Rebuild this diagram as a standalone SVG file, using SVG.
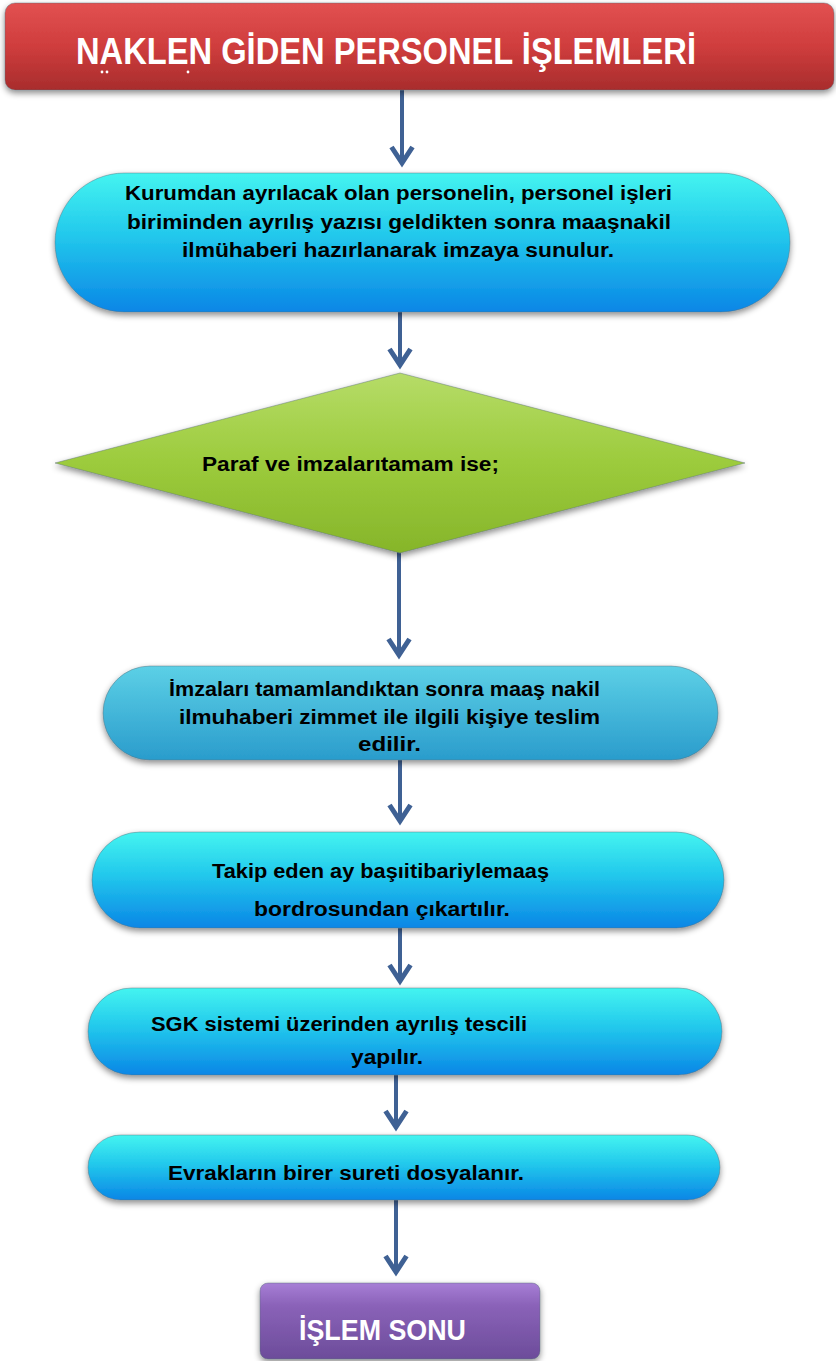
<svg xmlns="http://www.w3.org/2000/svg" width="836" height="1361" viewBox="0 0 836 1361">
  <defs>
    <style>
      .lbl { font-family: "Liberation Sans", Arial, sans-serif; font-weight: bold; font-size: 20px; fill: #000; }
      .ttl { font-family: "Liberation Sans", Arial, sans-serif; font-weight: bold; fill: #fff; }
      .conn { stroke: #3f6194; stroke-width: 4; fill: none; }
      .rim { stroke: #5a6e7a; stroke-opacity: 0.45; stroke-width: 1; }
    </style>
    <linearGradient id="gRed" x1="0" y1="0" x2="0" y2="1">
      <stop offset="0" stop-color="#e25151"/>
      <stop offset="0.5" stop-color="#cf3d3d"/>
      <stop offset="1" stop-color="#a82c2c"/>
    </linearGradient>
    <linearGradient id="gCyan" x1="0" y1="0" x2="0" y2="1">
      <stop offset="0" stop-color="#44f4f0"/>
      <stop offset="0.45" stop-color="#22c8ec"/>
      <stop offset="1" stop-color="#0a86e6"/>
    </linearGradient>
    <linearGradient id="gTeal" x1="0" y1="0" x2="0" y2="1">
      <stop offset="0" stop-color="#5cd0e6"/>
      <stop offset="1" stop-color="#2a9ccc"/>
    </linearGradient>
    <linearGradient id="gGreen" x1="0" y1="0" x2="0" y2="1">
      <stop offset="0" stop-color="#b6dc68"/>
      <stop offset="0.5" stop-color="#9ccb3c"/>
      <stop offset="1" stop-color="#86b52a"/>
    </linearGradient>
    <linearGradient id="gPurple" x1="0" y1="0" x2="0" y2="1">
      <stop offset="0" stop-color="#a77ed6"/>
      <stop offset="0.3" stop-color="#8a62b8"/>
      <stop offset="1" stop-color="#6c4c9a"/>
    </linearGradient>
    <filter id="shadow" x="-10%" y="-20%" width="120%" height="150%">
      <feDropShadow dx="0" dy="3" stdDeviation="3" flood-color="#000" flood-opacity="0.45"/>
    </filter>
    <!-- chevron head, drawn along +x so orient="auto" turns it with the line -->
    <marker id="head" markerUnits="userSpaceOnUse" markerWidth="26" markerHeight="28" refX="21" refY="14" orient="auto" viewBox="0 0 26 28">
      <polyline points="4,3.5 20,14 4,24.5" fill="none" stroke="#3f6194" stroke-width="5"/>
    </marker>
  </defs>

  <!-- connectors -->
  <g id="connectors">
    <line class="conn" x1="402" y1="90" x2="402" y2="164" marker-end="url(#head)"/>
    <line class="conn" x1="400" y1="312" x2="400" y2="366" marker-end="url(#head)"/>
    <line class="conn" x1="399" y1="548" x2="399" y2="656" marker-end="url(#head)"/>
    <line class="conn" x1="400" y1="760" x2="400" y2="822" marker-end="url(#head)"/>
    <line class="conn" x1="400" y1="928" x2="400" y2="982" marker-end="url(#head)"/>
    <line class="conn" x1="396" y1="1075" x2="396" y2="1128" marker-end="url(#head)"/>
    <line class="conn" x1="396" y1="1200" x2="396" y2="1273" marker-end="url(#head)"/>
  </g>

  <!-- title -->
  <g id="title">
    <rect x="5" y="3" width="829" height="87" rx="10" fill="url(#gRed)" class="rim" filter="url(#shadow)"/>
    <text class="ttl" x="76" y="64" font-size="36" textLength="620" lengthAdjust="spacingAndGlyphs">NAKLEN GİDEN PERSONEL İŞLEMLERİ</text>
    <circle cx="102" cy="72" r="1.4" fill="#fff"/>
    <circle cx="107" cy="72" r="1.4" fill="#fff"/>
    <circle cx="188" cy="72" r="1.4" fill="#fff"/>
  </g>

  <!-- step 1 -->
  <g id="step1">
    <rect x="55" y="173" width="735" height="139" rx="69.5" fill="url(#gCyan)" class="rim" filter="url(#shadow)"/>
    <text class="lbl" x="125" y="200" textLength="547" lengthAdjust="spacingAndGlyphs">Kurumdan ayrılacak olan personelin, personel işleri</text>
    <text class="lbl" x="127" y="229" textLength="544" lengthAdjust="spacingAndGlyphs">biriminden ayrılış yazısı geldikten sonra maaşnakil</text>
    <text class="lbl" x="182" y="257" textLength="432" lengthAdjust="spacingAndGlyphs">ilmühaberi hazırlanarak imzaya sunulur.</text>
  </g>

  <!-- decision -->
  <g id="decision">
    <polygon points="400,373 745,463 400,553 55,463" fill="url(#gGreen)" class="rim" filter="url(#shadow)"/>
    <text class="lbl" x="202" y="471" textLength="297" lengthAdjust="spacingAndGlyphs">Paraf ve imzalarıtamam ise;</text>
  </g>

  <!-- step 2 -->
  <g id="step2">
    <rect x="103" y="666" width="615" height="94" rx="47" fill="url(#gTeal)" class="rim" filter="url(#shadow)"/>
    <text class="lbl" x="169" y="696" textLength="431" lengthAdjust="spacingAndGlyphs">İmzaları tamamlandıktan sonra maaş nakil</text>
    <text class="lbl" x="179" y="724" textLength="421" lengthAdjust="spacingAndGlyphs">ilmuhaberi zimmet ile ilgili kişiye teslim</text>
    <text class="lbl" x="358" y="751" textLength="63" lengthAdjust="spacingAndGlyphs">edilir.</text>
  </g>

  <!-- step 3 -->
  <g id="step3">
    <rect x="92" y="832" width="632" height="96" rx="48" fill="url(#gCyan)" class="rim" filter="url(#shadow)"/>
    <text class="lbl" x="212" y="878" textLength="337" lengthAdjust="spacingAndGlyphs">Takip eden ay başıitibariylemaaş</text>
    <text class="lbl" x="254" y="916" textLength="256" lengthAdjust="spacingAndGlyphs">bordrosundan çıkartılır.</text>
  </g>

  <!-- step 4 -->
  <g id="step4">
    <rect x="88" y="988" width="634" height="87" rx="43.5" fill="url(#gCyan)" class="rim" filter="url(#shadow)"/>
    <text class="lbl" x="151" y="1031" textLength="376" lengthAdjust="spacingAndGlyphs">SGK sistemi üzerinden ayrılış tescili</text>
    <text class="lbl" x="351" y="1064" textLength="72" lengthAdjust="spacingAndGlyphs">yapılır.</text>
  </g>

  <!-- step 5 -->
  <g id="step5">
    <rect x="88" y="1135" width="632" height="65" rx="32.5" fill="url(#gCyan)" class="rim" filter="url(#shadow)"/>
    <text class="lbl" x="168" y="1180" textLength="356" lengthAdjust="spacingAndGlyphs">Evrakların birer sureti dosyalanır.</text>
  </g>

  <!-- end -->
  <g id="end">
    <rect x="260" y="1283" width="280" height="76" rx="8" fill="url(#gPurple)" class="rim" filter="url(#shadow)"/>
    <text class="ttl" x="299" y="1340" font-size="30" textLength="167" lengthAdjust="spacingAndGlyphs">İŞLEM SONU</text>
  </g>
</svg>
